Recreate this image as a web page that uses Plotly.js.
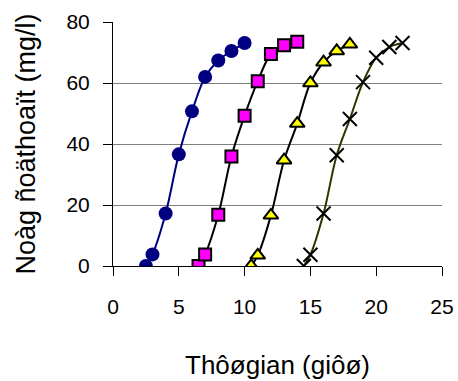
<!DOCTYPE html>
<html><head><meta charset="utf-8">
<script src="https://cdn.plot.ly/plotly-3.0.1.min.js"></script>
<style>html,body{margin:0;padding:0;background:#fff}#c{width:458px;height:381px}</style>
</head><body><div id="c"></div>
<script>
var xCircle = [2.5, 3, 4, 5, 6, 7, 8, 9, 10];
var yCircle = [0, 3.8, 17.2, 36.6, 50.7, 62, 67.4, 70.5, 73.1];
var xSquare = [6.5, 7, 8, 9, 10, 11, 12, 13, 14];
var ySquare = [0, 3.8, 16.8, 35.9, 49.3, 60.6, 69.5, 72.4, 73.5];
var xTriangle = [10.5, 11, 12, 13, 14, 15, 16, 17, 18];
var yTriangle = [0, 3.5, 16.6, 34.7, 46.7, 60, 66.8, 70.5, 72.7];
var xCross = [14.5, 15, 16, 17, 18, 19, 20, 21, 22];
var yCross = [0, 3.7, 17.2, 36.3, 48.2, 60.3, 68.3, 71.8, 73.1];
var xTicks = [0, 5, 10, 15, 20, 25];
var yTicks = [0, 20, 40, 60, 80];
var xTitle = "Thôøgian (giôø)";
var yTitle = "Noàg ñoäthoaït (mg/l)";

var traces = [
  {x: xCircle, y: yCircle, mode: 'lines+markers', line: {shape: 'spline', color: '#000080', width: 2},
   marker: {symbol: 'circle', size: 14, color: '#000080'}},
  {x: xSquare, y: ySquare, mode: 'lines+markers', line: {shape: 'spline', color: '#000000', width: 2},
   marker: {symbol: 'square', size: 12, color: '#ff00ff', line: {color: '#000000', width: 2}}},
  {x: xTriangle, y: yTriangle, mode: 'lines+markers', line: {shape: 'spline', color: '#000000', width: 2},
   marker: {symbol: 'triangle-up', size: 13, color: '#ffff00', line: {color: '#000000', width: 2}}},
  {x: xCross, y: yCross, mode: 'lines+markers', line: {shape: 'spline', color: '#333300', width: 2},
   marker: {symbol: 'x-thin-open', size: 14, color: '#000000', line: {color: '#000000', width: 2}}}
];
var layout = {
  width: 458, height: 381, showlegend: false,
  paper_bgcolor: '#fff', plot_bgcolor: '#fff',
  margin: {l: 113, r: 16, t: 22, b: 115},
  font: {family: 'Liberation Sans, Arial, sans-serif', color: '#000'},
  xaxis: {range: [0, 25], tickvals: xTicks, ticktext: xTicks.map(String), showgrid: false, zeroline: false,
    showline: true, linecolor: '#000', linewidth: 1, ticks: 'outside', ticklen: 9, tickcolor: '#000',
    tickfont: {size: 21}, ticklabelstandoff: 13, title: {text: xTitle, font: {size: 26}, standoff: 38}},
  yaxis: {range: [0, 80], tickvals: yTicks, ticktext: yTicks.map(String), showgrid: true, gridcolor: '#808080', gridwidth: 1,
    zeroline: false, showline: true, linecolor: '#000', linewidth: 1, ticks: 'outside', ticklen: 9, tickcolor: '#000',
    tickfont: {size: 21}, ticklabelstandoff: 9, title: {text: yTitle, font: {size: 27}, standoff: 22}}
};
Plotly.newPlot('c', traces, layout, {displayModeBar: false, staticPlot: true});
</script></body></html>
